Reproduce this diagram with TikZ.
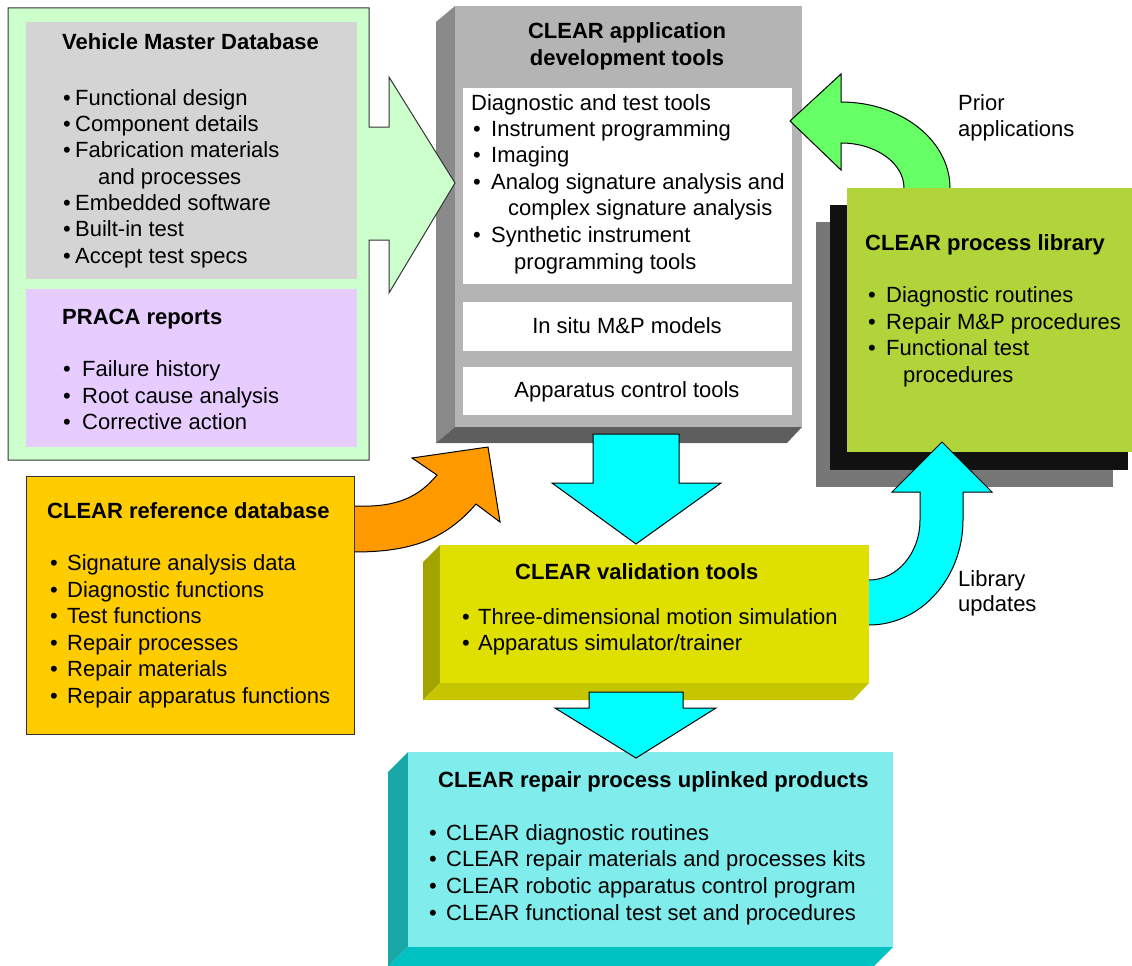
\documentclass[tikz,border=0pt]{standalone}
\usepackage{fontspec}
\setmainfont{Liberation Sans}
\newcommand\bitem[2]{\makebox[#1][l]{\textbullet}#2}
\definecolor{lgreen}{HTML}{CCFFCC}
\definecolor{vmdgray}{HTML}{D4D4D4}
\definecolor{lav}{HTML}{E6CCFF}
\definecolor{appfront}{HTML}{B4B4B4}
\definecolor{appleft}{HTML}{8A8A8A}
\definecolor{appbot}{HTML}{5E5E5E}
\definecolor{libgreen}{HTML}{B1D43A}
\definecolor{shblack}{HTML}{111111}
\definecolor{shgray}{HTML}{777777}
\definecolor{valfront}{HTML}{DFDF00}
\definecolor{valleft}{HTML}{A3A300}
\definecolor{valbot}{HTML}{C6C600}
\definecolor{prodfront}{HTML}{80ECEC}
\definecolor{prodleft}{HTML}{18A8A8}
\definecolor{prodbot}{HTML}{00C2C2}
\definecolor{gold}{HTML}{FFCC00}
\definecolor{orng}{HTML}{FF9900}
\definecolor{cyanA}{HTML}{00FFFF}
\definecolor{brgreen}{HTML}{66FF66}
\begin{document}
\begin{tikzpicture}[x=1pt,y=-1pt,
  txt/.style={anchor=base west,inner sep=0pt,font=\fontsize{22}{26}\selectfont},
  ttl/.style={txt,font=\fontsize{22}{26}\selectfont\bfseries},
  ctr/.style={txt,anchor=base},
  outl/.style={draw=black,line width=1pt,line join=miter},
  boxl/.style={draw=black!80,line width=1pt},
]
\useasboundingbox (0,0) rectangle (1132,966);

% ---------- CLEAR application development tools (3D box)
\fill[appleft] (455,6) -- (436,22) -- (436,443) -- (455,427) -- cycle;
\fill[appbot] (455,427) -- (436,443) -- (787,443) -- (802,427) -- cycle;
\fill[appfront] (455,6) rectangle (802,427);
\fill[white] (463,88) rectangle (792,284);
\fill[white] (463,302) rectangle (792,351);
\fill[white] (463,367) rectangle (792,415);
\node[ctr,font=\fontsize{22}{26}\selectfont\bfseries] (app1) at (627,39) {CLEAR application};
\node[ctr,font=\fontsize{22}{26}\selectfont\bfseries] (app2) at (627,66) {development tools};
\node[txt] (dtt) at (471,110) {Diagnostic and test tools};
\node[txt] (dt1) at (473,136) {\bitem{18pt}{Instrument programming}};
\node[txt] (dt2) at (473,162) {\bitem{18pt}{Imaging}};
\node[txt] (dt3) at (473,189) {\bitem{18pt}{Analog signature analysis and}};
\node[txt] (dt3b) at (508,215) {complex signature analysis};
\node[txt] (dt4) at (473,242) {\bitem{18pt}{Synthetic instrument}};
\node[txt] (dt4b) at (514,269) {programming tools};
\node[ctr] (insitu) at (627,333) {In situ M\&P models};
\node[ctr] (appctl) at (627,397) {Apparatus control tools};

% ---------- Vehicle master database + arrow
\filldraw[fill=lgreen,boxl] (8,8) -- (369,8) -- (369,127) -- (389,127) -- (389,77)
  -- (455,183) -- (389,293) -- (389,240) -- (369,240) -- (369,460) -- (8,460) -- cycle;
\fill[vmdgray] (26,22) rectangle (357,279);
\fill[lav] (26,289) rectangle (357,447);
\node[ttl] (vmdt) at (62,50) {Vehicle Master Database};
\foreach \y/\t [count=\i] in {105/Functional design,131/Component details,157/Fabrication materials,210/Embedded software,236/Built-in test,263/Accept test specs}
  \node[txt] (vmd\i) at (63,\y) {\bitem{12pt}{\t}};
\node[txt] (vmd3b) at (98,184) {and processes};
\node[ttl] (pract) at (62,324) {PRACA reports};
\foreach \y/\t [count=\i] in {376/Failure history,403/Root cause analysis,429/Corrective action}
  \node[txt] (praca\i) at (63,\y) {\bitem{19pt}{\t}};

% ---------- Prior applications arrow
\filldraw[fill=brgreen,outl] (950,195) -- (950,188) arc[start angle=0,end angle=-90,x radius=109,y radius=86]
  -- (841,74) -- (790,121) -- (841,170) -- (841,143)
  arc[start angle=-90,end angle=0,x radius=63,y radius=45] -- (904,195) -- cycle;

% ---------- CLEAR process library
\fill[shgray] (816,222) rectangle (1113,487);
\fill[shblack] (830,205) rectangle (1128,470);
\fill[libgreen] (847,188) rectangle (1132,452);
\node[ttl] (libt) at (865,250) {CLEAR process library};
\foreach \y/\t [count=\i] in {302/Diagnostic routines,329/Repair M\&P procedures,355/Functional test}
  \node[txt] (lib\i) at (868,\y) {\bitem{18pt}{\t}};
\node[txt] (lib3b) at (903,382) {procedures};

% ---------- Library updates arrow
\filldraw[fill=cyanA,outl] (860,625) -- (869,625) arc[start angle=90,end angle=0,x radius=94,y radius=105]
  -- (963,492) -- (992,492) -- (942,442) -- (892,492) -- (920,492) -- (920,520)
  arc[start angle=0,end angle=90,x radius=51,y radius=60] -- (860,580) -- cycle;

% ---------- CLEAR validation tools
\fill[valleft] (440,545) -- (423,562) -- (423,700) -- (440,683) -- cycle;
\fill[valbot] (440,683) -- (423,700) -- (853,700) -- (869,683) -- cycle;
\fill[valfront] (440,545) rectangle (869,683);
\node[ttl] (valt) at (515,579) {CLEAR validation tools};
\node[txt] (val1) at (462,624) {\bitem{16pt}{Three-dimensional motion simulation}};
\node[txt] (val2) at (462,650) {\bitem{16pt}{Apparatus simulator/trainer}};

% ---------- CLEAR repair process uplinked products
\fill[prodleft] (408,752) -- (388,772) -- (388,967) -- (408,947) -- cycle;
\fill[prodbot] (408,947) -- (388,967) -- (873,967) -- (893,947) -- cycle;
\fill[prodfront] (408,752) rectangle (893,947);
\node[ttl] (prodt) at (438,787) {CLEAR repair process uplinked products};
\foreach \y/\t [count=\i] in {840/CLEAR diagnostic routines,866/CLEAR repair materials and processes kits,893/CLEAR robotic apparatus control program,920/CLEAR functional test set and procedures}
  \node[txt] (prod\i) at (429,\y) {\bitem{17pt}{\t}};

% ---------- cyan down arrows
\filldraw[fill=cyanA,outl] (593,434) -- (679,434) -- (679,483) -- (721,483) -- (636,544) -- (552,483) -- (593,483) -- cycle;
\filldraw[fill=cyanA,outl] (589,692) -- (683,692) -- (683,708) -- (716,708) -- (636,758) -- (555,708) -- (589,708) -- cycle;

% ---------- CLEAR reference database + arrow
\filldraw[fill=orng,outl] (354,506) .. controls (400,508) and (420,495) .. (437,475) -- (412,458) -- (488,447)
  -- (500,522) -- (476,504) .. controls (445,540) and (410,552) .. (354,552) -- cycle;
\filldraw[fill=gold,boxl] (26,476) rectangle (354,734);
\node[ttl] (reft) at (47,518) {CLEAR reference database};
\foreach \y/\t [count=\i] in {570/Signature analysis data,597/Diagnostic functions,623/Test functions,650/Repair processes,676/Repair materials,703/Repair apparatus functions}
  \node[txt] (ref\i) at (50,\y) {\bitem{17pt}{\t}};

% ---------- labels
\node[txt] (prior1) at (958,110) {Prior};
\node[txt] (prior2) at (958,136) {applications};
\node[txt] (libu1) at (958,586) {Library};
\node[txt] (libu2) at (958,611) {updates};
\end{tikzpicture}
\end{document}
